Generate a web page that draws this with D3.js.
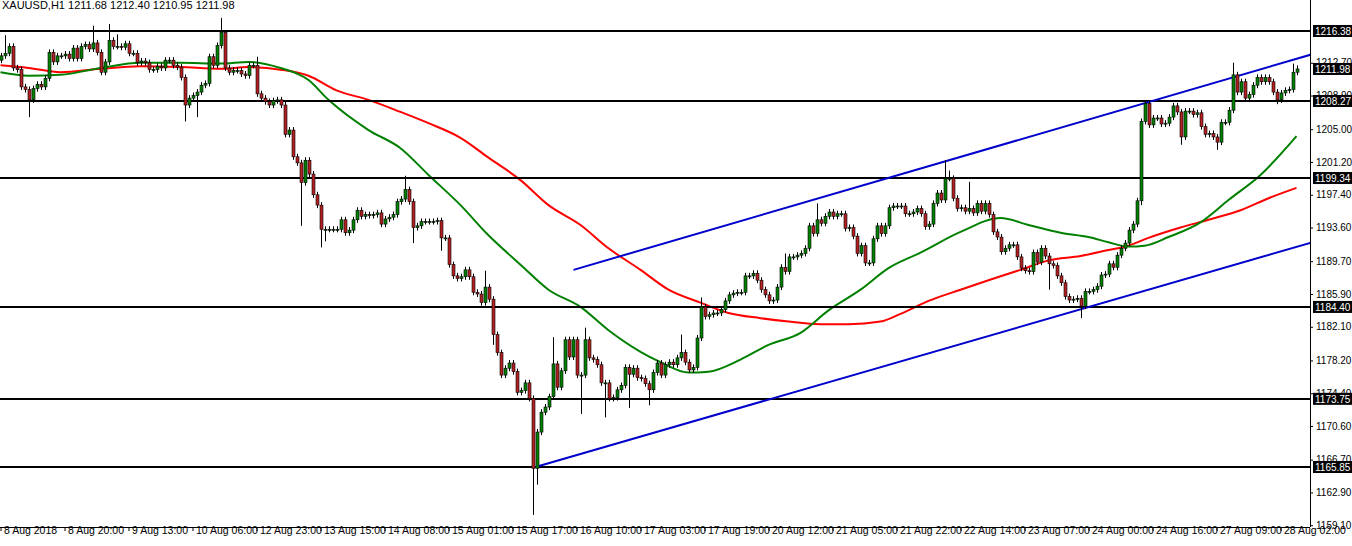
<html><head>
<script src="https://d3js.org/d3.v7.min.js"></script>
<style>
  body { margin: 0; background: #fff; }
  text { font-family: 'Liberation Sans', Arial, sans-serif; font-size: 10.5px; fill: #000; }
</style>
</head>
<body>
<svg id="chart" width="1352" height="546"></svg>
<script>
// hourly closes, XAUUSD H1, 8 Aug - 28 Aug 2018
const closes = [
 1213.5,1213.8,1214.6,1212.1,1211.9,1209.9,1209.6,1208.4,1209.7,1210.2,1209.9,1210.9,1213.9,1212.8,1213.5,1213.5,
 1213.7,1213.2,1214.4,1213.2,1214.6,1214.8,1214.3,1215.0,1213.9,1211.6,1212.8,1215.3,1214.6,1214.6,1214.5,1214.9,
 1213.8,1213.8,1212.7,1212.9,1212.7,1211.9,1211.9,1212.3,1212.1,1213.0,1213.0,1212.4,1212.2,1211.0,1207.8,1208.6,
 1208.9,1209.3,1210.1,1210.3,1213.4,1212.4,1214.7,1216.2,1212.1,1211.6,1211.8,1211.8,1211.4,1211.2,1212.4,1212.4,
 1209.1,1208.6,1208.2,1207.8,1208.3,1208.4,1207.8,1204.4,1204.9,1201.8,1201.1,1198.8,1201.4,1199.8,1197.4,1196.2,
 1193.4,1193.4,1193.4,1193.4,1193.4,1194.5,1193.0,1193.3,1194.5,1195.6,1194.9,1195.1,1195.0,1195.1,1195.3,1194.0,
 1194.6,1194.8,1195.1,1196.6,1196.9,1198.0,1196.6,1193.6,1193.8,1194.3,1194.3,1194.3,1194.3,1194.4,1192.4,1192.4,
 1189.3,1188.0,1187.7,1187.9,1188.7,1187.9,1186.1,1185.9,1184.9,1186.7,1185.3,1181.2,1179.1,1176.5,1177.3,1177.9,
 1176.9,1174.5,1174.7,1175.6,1173.8,1165.7,1169.9,1172.2,1172.8,1174.0,1177.8,1175.1,1177.0,1180.6,1178.6,1180.6,
 1176.5,1176.5,1180.6,1178.5,1178.3,1177.7,1175.6,1175.6,1173.8,1173.9,1174.8,1175.3,1177.4,1176.6,1177.3,1176.2,
 1176.1,1175.5,1174.8,1176.8,1177.9,1176.5,1177.7,1178.0,1177.7,1178.5,1179.1,1178.0,1177.1,1177.4,1180.8,1184.4,
 1183.3,1183.5,1183.7,1183.7,1184.1,1185.1,1185.8,1186.0,1186.1,1186.1,1188.0,1188.0,1188.3,1187.5,1186.4,1185.8,
 1185.1,1185.2,1186.7,1189.0,1188.5,1190.2,1190.2,1190.4,1190.6,1191.2,1193.8,1192.9,1194.5,1194.1,1194.9,1195.4,
 1194.9,1195.2,1195.2,1193.5,1193.6,1192.6,1190.6,1191.5,1189.5,1189.5,1192.3,1193.8,1192.9,1193.8,1195.9,1196.1,
 1196.1,1196.1,1195.2,1195.2,1195.4,1195.8,1195.2,1193.7,1194.0,1196.4,1197.6,1196.8,1199.3,1199.3,1197.0,1195.8,
 1195.9,1195.5,1195.8,1195.3,1196.4,1195.5,1196.4,1195.1,1193.1,1192.5,1190.8,1191.2,1191.6,1191.6,1190.2,1188.9,
 1188.6,1188.5,1190.7,1189.6,1191.2,1190.3,1189.4,1189.2,1188.0,1187.2,1185.6,1185.2,1185.3,1185.4,1184.5,1186.2,
 1186.2,1186.4,1186.8,1188.1,1188.2,1189.4,1189.0,1190.4,1191.2,1191.8,1193.3,1194.0,1196.7,1205.9,1208.0,1205.5,
 1206.3,1206.3,1205.6,1205.7,1206.4,1207.7,1207.0,1204.1,1207.1,1207.1,1206.7,1206.9,1205.3,1204.4,1204.5,1204.1,
 1203.5,1205.8,1205.8,1207.2,1211.3,1209.3,1210.5,1208.6,1209.0,1210.1,1211.0,1210.5,1211.0,1210.5,1209.3,1208.4,
 1209.2,1209.5,1209.6,1211.6,1211.98
];
const firstOpen = 1213.0;
// notable wick extremes [candle, high, low]
const wickExtremes = [
 [1,1215.9,null],[7,null,1206.4],[23,1217.0,null],[27,1217.2,null],[29,1216.0,null],[46,null,1205.9],
 [49,null,1206.4],[55,1217.9,null],[56,1216.3,null],[64,1213.4,null],[75,null,1193.8],[80,null,1191.3],
 [81,null,1192.0],[101,1199.6,null],[103,null,1191.8],[110,null,1190.9],[121,1188.6,null],[123,null,1180.0],
 [133,null,1160.3],[134,null,1163.8],[138,1180.9,null],[145,null,1172.0],[146,1182.0,null],[151,null,1171.6],
 [157,null,1172.7],[162,null,1173.0],[170,1181.2,null],[175,1185.5,null],[196,1190.6,null],[204,1196.4,null],
 [236,1201.4,null],[237,1200.2,null],[242,1198.9,null],[262,null,1186.4],[270,null,1183.1],[285,null,1196.2],
 [295,null,1203.2],[304,null,1202.6],[308,1212.7,null],[319,null,1207.9],[323,1212.6,null],[324,1212.4,null]
];
const greenMA = [[0,1211.6],[7,1211.2],[15,1211.3],[25,1212.1],[35,1212.7],[45,1212.7],[55,1212.6],[62,1212.8],
 [70,1212.1],[77,1210.7],[82,1208.4],[92,1204.9],[100,1202.8],[107,1199.7],[115,1196.2],[122,1192.7],[130,1189.3],
 [137,1186.4],[145,1184.4],[152,1181.7],[160,1179.2],[165,1178.0],[172,1176.8],[177,1176.9],[185,1178.3],[192,1180.0],
 [200,1181.4],[207,1184.0],[215,1186.4],[222,1188.9],[230,1190.7],[240,1193.1],[250,1194.7],[257,1193.9],[265,1193.0],
 [272,1192.5],[277,1191.9],[282,1191.4],[286,1191.5],[292,1192.5],[300,1194.2],[307,1196.8],[315,1199.7],[324,1204.2]];
const redMA = [[0,1212.4],[7,1212.1],[15,1211.6],[25,1212.0],[35,1212.3],[45,1212.2],[55,1212.0],[62,1212.2],
 [70,1211.9],[77,1211.2],[84,1209.5],[92,1208.4],[100,1207.0],[107,1205.7],[115,1204.0],[122,1201.7],[130,1199.1],
 [137,1196.2],[145,1193.9],[152,1191.2],[160,1188.7],[167,1186.4],[175,1184.9],[182,1183.7],[190,1183.1],[197,1182.7],
 [205,1182.4],[212,1182.4],[220,1182.7],[225,1183.6],[232,1185.1],[240,1186.4],[247,1187.5],[255,1188.7],[262,1189.8],
 [270,1190.3],[277,1191.0],[282,1191.5],[287,1192.4],[295,1193.6],[302,1194.5],[310,1195.6],[317,1197.0],[324,1198.2]];
const channelUpper = [[143.25,1188.7],[328,1213.7]];
const channelLower = [[133.75,1165.85],[328,1191.9]];
const levels = [1216.38,1208.27,1199.34,1184.40,1173.75,1165.85];
const priceTicks = [1212.70,1208.90,1205.00,1201.20,1197.40,1193.60,1189.70,1185.90,1182.10,1178.20,1174.40,1170.60,1166.70,1162.90,1159.10];
const timeLabels = ["8 Aug 2018","8 Aug 20:00","9 Aug 13:00","10 Aug 06:00","12 Aug 23:00","13 Aug 15:00","14 Aug 08:00",
 "15 Aug 01:00","15 Aug 17:00","16 Aug 10:00","17 Aug 03:00","17 Aug 19:00","20 Aug 12:00","21 Aug 05:00","21 Aug 22:00",
 "22 Aug 14:00","23 Aug 07:00","24 Aug 00:00","24 Aug 16:00","27 Aug 09:00","28 Aug 02:00"];
const lastPrice = 1211.98;

const svg = d3.select("#chart");
const plotRight = 1310, plotBottom = 527;

const x = d3.scaleLinear().domain([0, 1]).range([0.5, 4.5]);
const y = d3.scaleLinear().domain([1216.38, 1165.85]).range([31, 467]);

const candles = closes.map((c, i) => {
  const o = i == 0 ? firstOpen : closes[i-1];
  let hi = Math.max(o, c) + 0.35, lo = Math.min(o, c) - 0.35;
  const w = wickExtremes.find(d => d[0] == i);
  if (w) { if (w[1] != null) hi = w[1]; if (w[2] != null) lo = w[2]; }
  return {i, o, c, hi, lo};
});

svg.append("clipPath").attr("id", "clip").append("rect")
  .attr("x", 0).attr("y", 0).attr("width", plotRight).attr("height", plotBottom);
const plot = svg.append("g").attr("clip-path", "url(#clip)");

// moving averages
const line = d3.line().x(d => x(d[0])).y(d => y(d[1])).curve(d3.curveMonotoneX);
plot.append("path").attr("d", line(redMA)).attr("fill", "none").attr("stroke", "#ff0000").attr("stroke-width", 2);
plot.append("path").attr("d", line(greenMA)).attr("fill", "none").attr("stroke", "#008000").attr("stroke-width", 2);

// horizontal levels
plot.selectAll("line.level").data(levels).join("line").attr("class", "level")
  .attr("x1", 0).attr("x2", plotRight).attr("y1", d => Math.round(y(d))).attr("y2", d => Math.round(y(d)))
  .attr("stroke", "#000").attr("stroke-width", 2);

// channel
const straight = d3.line().x(d => x(d[0])).y(d => y(d[1]));
[channelUpper, channelLower].forEach(c => {
  plot.append("path").attr("d", straight(c)).attr("stroke", "#0000cc").attr("stroke-width", 2).attr("fill", "none");
});

// candles
plot.selectAll("line.wick").data(candles).join("line").attr("class", "wick")
  .attr("x1", d => Math.round(x(d.i)) + 0.5).attr("x2", d => Math.round(x(d.i)) + 0.5)
  .attr("y1", d => y(d.hi)).attr("y2", d => y(d.lo)).attr("stroke", "#000").attr("stroke-width", 1);
plot.selectAll("rect.body").data(candles).join("rect").attr("class", "body")
  .attr("x", d => Math.round(x(d.i)) - 1)
  .attr("y", d => y(Math.max(d.o, d.c)))
  .attr("width", 3)
  .attr("height", d => Math.max(1, Math.abs(y(d.o) - y(d.c))))
  .attr("fill", d => d.c >= d.o ? "#008000" : "#b22222")
  .attr("stroke", "#000").attr("stroke-width", 0.6);

// axes frame
svg.append("line").attr("x1", plotRight + 0.5).attr("x2", plotRight + 0.5).attr("y1", 0).attr("y2", plotBottom).attr("stroke", "#000");
svg.append("line").attr("x1", 0).attr("x2", plotRight).attr("y1", plotBottom + 0.5).attr("y2", plotBottom + 0.5).attr("stroke", "#000");

const yAxis = svg.append("g").attr("transform", `translate(${plotRight},0)`)
  .call(d3.axisRight(y).tickValues(priceTicks).tickFormat(d3.format(".2f")).tickSize(3).tickPadding(3));
yAxis.select(".domain").remove();
yAxis.selectAll("text").style("font-size", "10px").attr("font-family", "'Liberation Sans', Arial, sans-serif");

const xAxis = svg.append("g").attr("transform", `translate(0,${plotBottom})`)
  .call(d3.axisBottom(x).tickValues(timeLabels.map((d, k) => k * 16)).tickFormat((d, k) => timeLabels[k]).tickSize(4).tickPadding(3));
xAxis.select(".domain").remove();
xAxis.selectAll("text").attr("text-anchor", "start").attr("dx", 3).attr("dy", 0).style("font-size", "10.5px")
  .attr("font-family", "'Liberation Sans', Arial, sans-serif");

// level tags
const tags = svg.selectAll("g.tag").data(levels.concat([lastPrice])).join("g").attr("class", "tag")
  .attr("transform", d => `translate(${plotRight + 3},${y(d)})`);
tags.append("rect").attr("x", 0).attr("y", -6).attr("width", 39).attr("height", 12).attr("fill", "#000");
tags.append("text").attr("x", 2).attr("y", 4).style("fill", "#fff").style("font-size", "10px")
  .text(d => d.toFixed(2));

svg.append("text").attr("x", 2).attr("y", 9).style("font-size", "11px").text("XAUUSD,H1  1211.68 1212.40 1210.95 1211.98");
</script>
</body>
</html>
